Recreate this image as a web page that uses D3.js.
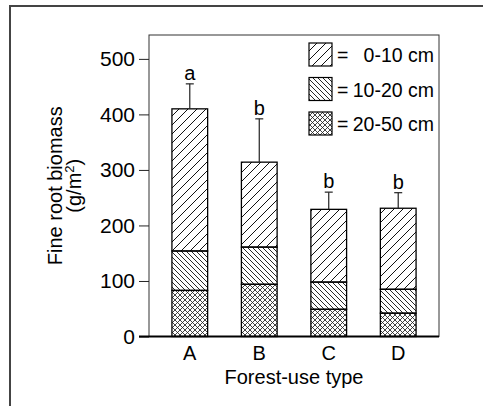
<!DOCTYPE html>
<html>
<head>
<meta charset="utf-8">
<script src="https://cdn.jsdelivr.net/npm/d3@7.9.0/dist/d3.min.js"></script>
<style>
  body { margin: 0; background: #fff; }
  svg { display: block; font-family: "Liberation Sans", Arial, sans-serif; }
</style>
</head>
<body>
<svg id="chart" width="483" height="406"></svg>
<script>
// fine root biomass per forest-use type, stacked by soil depth
const types = ['A', 'B', 'C', 'D'];
const depths = ['20-50 cm', '10-20 cm', '0-10 cm'];
const deep = [83, 94, 49, 42];      // 20-50 cm
const middle = [71, 67, 49, 43];    // 10-20 cm
const surface = [256, 153, 131, 146]; // 0-10 cm
const errUp = [45, 78, 31, 28];
const letters = ['a', 'b', 'b', 'b'];
const yTicks = [0, 100, 200, 300, 400, 500];

const rows = types.map((t, i) => ({
  type: t,
  '20-50 cm': deep[i],
  '10-20 cm': middle[i],
  '0-10 cm': surface[i],
}));

const svg = d3.select('#chart');
const plotLeft = 149, plotRight = 439, plotTop = 35, plotBottom = 336.5;

const x = d3.scaleBand()
  .domain(types)
  .range([plotLeft, plotRight])
  .paddingInner(0.486)
  .paddingOuter(0.33);

const y = d3.scaleLinear().domain([0, 543]).range([plotBottom, plotTop]);

// hatch patterns
const defs = svg.append('defs');
defs.append('pattern')
  .attr('id', 'p-fwd')
  .attr('patternUnits', 'userSpaceOnUse')
  .attr('width', 9).attr('height', 9)
  .append('path')
  .attr('d', 'M0,9 L9,0 M-2,2 L2,-2 M7,11 L11,7')
  .attr('stroke', '#111').attr('stroke-width', 1);

defs.append('pattern')
  .attr('id', 'p-back')
  .attr('patternUnits', 'userSpaceOnUse')
  .attr('width', 5).attr('height', 5)
  .append('path')
  .attr('d', 'M0,0 L5,5 M-1,4 L1,6 M4,-1 L6,1')
  .attr('stroke', '#111').attr('stroke-width', 0.9);

const cross = defs.append('pattern')
  .attr('id', 'p-cross')
  .attr('patternUnits', 'userSpaceOnUse')
  .attr('width', 5).attr('height', 5);
cross.append('path')
  .attr('d', 'M0,0 L5,5 M-1,4 L1,6 M4,-1 L6,1 M0,5 L5,0 M-1,1 L1,-1 M4,6 L6,4')
  .attr('stroke', '#222').attr('stroke-width', 0.85);

const fills = {
  '0-10 cm': 'url(#p-fwd)',
  '10-20 cm': 'url(#p-back)',
  '20-50 cm': 'url(#p-cross)',
};

// outer frame (only top and left edges fall inside the picture)
svg.append('rect')
  .attr('x', 10).attr('y', 6)
  .attr('width', 700).attr('height', 600)
  .attr('fill', 'none')
  .attr('stroke', '#444')
  .attr('stroke-width', 2);

// plot frame
svg.append('rect')
  .attr('x', plotLeft).attr('y', plotTop)
  .attr('width', plotRight - plotLeft).attr('height', plotBottom - plotTop)
  .attr('fill', 'none')
  .attr('stroke', '#333')
  .attr('stroke-width', 1);

// stacked bars
const stacked = d3.stack().keys(depths)(rows);

svg.append('g')
  .selectAll('g')
  .data(stacked)
  .join('g')
  .attr('fill', (d) => fills[d.key])
  .selectAll('rect')
  .data((d) => d)
  .join('rect')
  .attr('x', (d) => x(d.data.type))
  .attr('y', (d) => y(d[1]))
  .attr('width', x.bandwidth())
  .attr('height', (d) => y(d[0]) - y(d[1]))
  .attr('stroke', '#000')
  .attr('stroke-width', 1.3);

// error bars and letters
const totals = types.map((t, i) => deep[i] + middle[i] + surface[i]);
const eb = svg.append('g');
types.forEach((t, i) => {
  const cx = x(t) + x.bandwidth() / 2;
  const yTop = y(totals[i] + errUp[i]);
  eb.append('line')
    .attr('x1', cx).attr('x2', cx)
    .attr('y1', y(totals[i])).attr('y2', yTop)
    .attr('stroke', '#222').attr('stroke-width', 1.2);
  eb.append('line')
    .attr('x1', cx - 4).attr('x2', cx + 4)
    .attr('y1', yTop).attr('y2', yTop)
    .attr('stroke', '#222').attr('stroke-width', 1.2);
  eb.append('text')
    .attr('x', cx).attr('y', yTop - 4)
    .attr('text-anchor', 'middle')
    .attr('font-size', 20)
    .text(letters[i]);
});

// y axis
const yAxis = svg.append('g')
  .attr('transform', `translate(${plotLeft},0)`)
  .call(d3.axisLeft(y).tickValues(yTicks).tickSize(10).tickPadding(4));
yAxis.select('.domain').remove();
yAxis.selectAll('text').attr('font-size', 21).attr('fill', '#000')
  .attr('font-family', '"Liberation Sans", Arial, sans-serif');
yAxis.selectAll('line').attr('stroke', '#222');

// bottom axis line
svg.append('line')
  .attr('x1', plotLeft - 10).attr('x2', plotRight)
  .attr('y1', plotBottom).attr('y2', plotBottom)
  .attr('stroke', '#000').attr('stroke-width', 1.8);

// x labels
svg.append('g')
  .selectAll('text')
  .data(types)
  .join('text')
  .attr('x', (d) => x(d) + x.bandwidth() / 2)
  .attr('y', 360)
  .attr('text-anchor', 'middle')
  .attr('font-size', 20)
  .text((d) => d);

svg.append('text')
  .attr('x', (plotLeft + plotRight) / 2)
  .attr('y', 384)
  .attr('text-anchor', 'middle')
  .attr('font-size', 20)
  .text('Forest-use type');

// y title
const yt = svg.append('text')
  .attr('transform', `translate(62,${(plotTop + plotBottom) / 2}) rotate(-90)`)
  .attr('text-anchor', 'middle')
  .attr('font-size', 20);
yt.append('tspan').attr('x', 0).attr('dy', 0).text('Fine root biomass');
yt.append('tspan').attr('x', 0).attr('dy', 19).text('(g/m');
yt.append('tspan').attr('dy', -7).attr('font-size', 13).text('2');
yt.append('tspan').attr('dy', 7).text(')');

// legend
const legendKeys = ['0-10 cm', '10-20 cm', '20-50 cm'];
const legendY = [43, 77.5, 112];
const lg = svg.append('g');
legendKeys.forEach((k, i) => {
  lg.append('rect')
    .attr('x', 309).attr('y', legendY[i])
    .attr('width', 23).attr('height', 23)
    .attr('fill', fills[k])
    .attr('stroke', '#000').attr('stroke-width', 1.2);
  lg.append('text')
    .attr('x', 337).attr('y', legendY[i] + 19)
    .attr('font-size', 19.5)
    .text('=');
  lg.append('text')
    .attr('x', 434).attr('y', legendY[i] + 19)
    .attr('text-anchor', 'end')
    .attr('font-size', 19.5)
    .text(k);
});
</script>
</body>
</html>
